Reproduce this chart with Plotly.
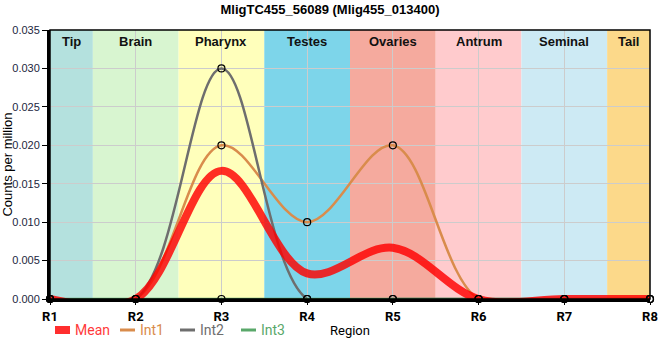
import plotly.graph_objects as go

regions = ["R1", "R2", "R3", "R4", "R5", "R6", "R7", "R8"]
int1 = [0, 0, 0.020, 0.010, 0.020, 0, 0, 0]
int2 = [0, 0, 0.030, 0, 0, 0, 0, 0]
int3 = [0, 0, 0, 0, 0, 0, 0, 0]
mean = [0, 0, 0.01667, 0.00333, 0.00667, 0, 0, 0]

tissues = ["Tip", "Brain", "Pharynx", "Testes", "Ovaries", "Antrum", "Seminal", "Tail"]
tissue_colors = ["#b4e1de", "#d8f5d0", "#ffffbb", "#7dd5ea", "#f5aa9e", "#ffcbcd", "#cdeaf4", "#fcd98a"]

xs = list(range(1, len(regions) + 1))

W, H = 660, 360
ML, MR, MT, MB = 50, 10, 30, 61
PW, PH = W - ML - MR, H - MT - MB

fig = go.Figure()

# background bands
for i, (t, c) in enumerate(zip(tissues, tissue_colors)):
    x0 = max(1, xs[i] - 0.5)
    x1 = min(len(regions), xs[i] + 0.5)
    fig.add_shape(type="rect", xref="x", yref="paper", x0=x0, x1=x1, y0=0, y1=1,
                  fillcolor=c, line=dict(width=0), layer="below")
    fig.add_annotation(x=(x0 + x1) / 2, y=1, xref="x", yref="paper", yanchor="top",
                       yshift=-2, text="<b>%s</b>" % t, showarrow=False,
                       font=dict(family="Liberation Sans, Arial", size=13, color="#111"))

series = [
    ("Int1", int1, "#d98c4c"),
    ("Int2", int2, "#6e6e6e"),
    ("Int3", int3, "#5aa86a"),
]
for name, vals, col in series:
    fig.add_trace(go.Scatter(
        x=xs, y=vals, mode="lines", name=name, showlegend=False,
        line=dict(color=col, width=2.5, shape="spline", smoothing=1.0),
    ))

mean_col = "rgba(255,0,0,0.82)"
fig.add_trace(go.Scatter(
    x=xs, y=mean, mode="lines", name="Mean", showlegend=False,
    line=dict(color=mean_col, width=8, shape="spline", smoothing=1.0),
))

for name, vals, col in series:
    fig.add_trace(go.Scatter(
        x=xs, y=vals, mode="markers", showlegend=False, cliponaxis=False,
        marker=dict(symbol="circle-open", size=7, color="black", line=dict(width=1.2)),
    ))

# frame top/right
fig.add_shape(type="rect", xref="paper", yref="paper", x0=0, x1=1, y0=0, y1=1,
              line=dict(color="black", width=1.5), layer="above")

# custom legend (key line start px, text start px)
legend_items = [("Mean", "#ff3a3a", mean_col, 8, 55), ("Int1", "#d98c4c", "#d98c4c", 3, 120),
                ("Int2", "#6e6e6e", "#6e6e6e", 3, 180), ("Int3", "#5aa86a", "#5aa86a", 3, 241)]
ly = (H - MB - 330) / PH
for name, tcol, lcol, lw, px in legend_items:
    fig.add_shape(type="line", xref="paper", yref="paper",
                  x0=(px - ML) / PW, x1=(px + 15 - ML) / PW, y0=ly, y1=ly,
                  line=dict(color=lcol, width=lw))
    fig.add_annotation(text=name, xref="paper", yref="paper", x=(px + 18 - ML) / PW, y=ly,
                       xanchor="left", yanchor="middle", showarrow=False,
                       font=dict(family="Roboto", size=14, color=tcol))

# x-axis title
fig.add_annotation(text="Region", xref="paper", yref="paper", x=0.5, y=ly,
                   xanchor="center", yanchor="middle", showarrow=False,
                   font=dict(family="Roboto", size=13, color="black"))

fig.update_layout(
    width=W, height=H,
    margin=dict(l=ML, r=MR, t=MT, b=MB, autoexpand=False),
    paper_bgcolor="white", plot_bgcolor="white",
    title=dict(text="<b>MligTC455_56089 (Mlig455_013400)</b>", x=0.5, xanchor="center",
               xref="container", yref="container", y=0.975, yanchor="middle",
               font=dict(family="Liberation Sans, Arial", size=13, color="black")),
    font=dict(family="Roboto, Liberation Sans", size=12, color="black"),
    showlegend=False,
)

fig.update_xaxes(
    range=[1, 8], tickvals=xs, ticktext=["<b>%s</b>" % r for r in regions],
    tickfont=dict(family="Roboto", size=13, color="black"),
    showgrid=True, gridcolor="#cccccc", gridwidth=1,
    showline=True, linecolor="black", linewidth=3,
    ticks="outside", ticklen=3, tickcolor="black",
    zeroline=False, layer="above traces", automargin=False,
)
fig.update_yaxes(
    range=[0, 0.035], dtick=0.005, tickformat=".3f",
    tickfont=dict(family="Liberation Sans, Arial", size=11, color="#1c2640"),
    showgrid=True, gridcolor="#cccccc", gridwidth=1,
    showline=True, linecolor="black", linewidth=3,
    ticks="outside", ticklen=5, tickcolor="black",
    title=dict(text="Counts per million", font=dict(family="Liberation Sans, Arial", size=13, color="black"), standoff=4),
    zeroline=False, layer="above traces", automargin=False,
)

fig.write_html("out.html", config={"displayModeBar": False},
               post_script="document.body.style.margin='0';")
